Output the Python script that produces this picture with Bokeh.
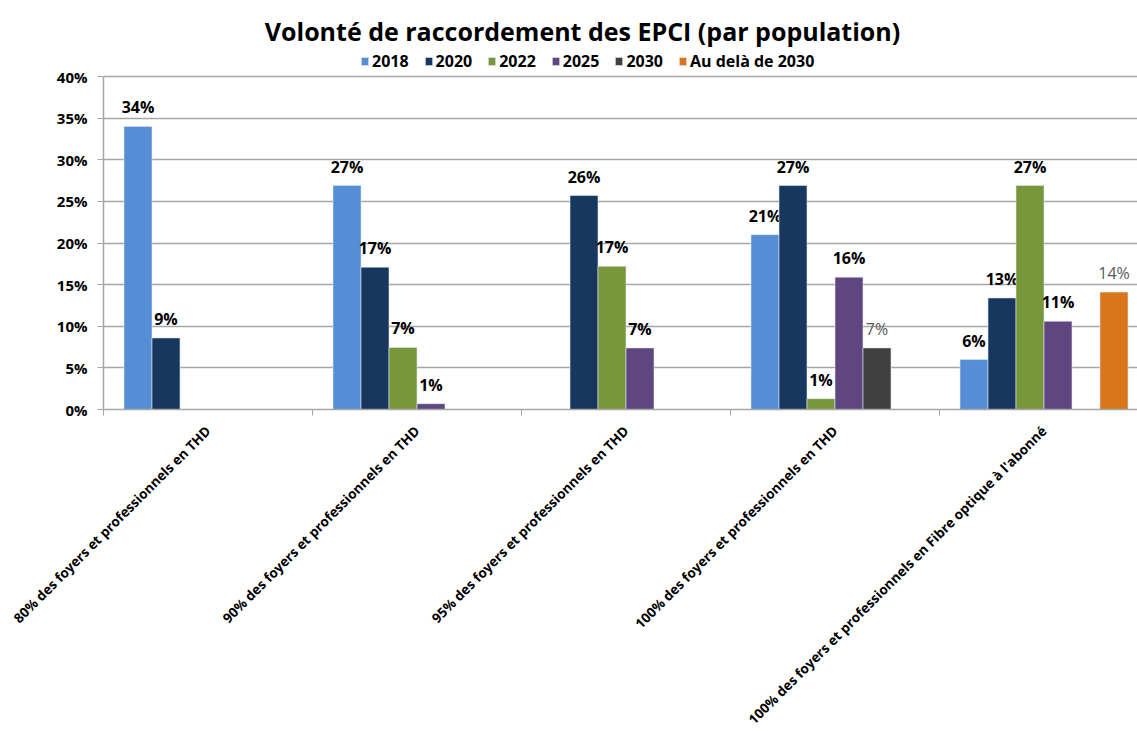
import math
import numpy as np
from bokeh.plotting import figure
from bokeh.models import (Range1d, FixedTicker, NumeralTickFormatter, Legend,
                          LegendItem, Label, ColumnDataSource)
from bokeh.core.properties import value
from bokeh.embed import file_html
from bokeh.resources import INLINE

# ---------------- data ----------------
categories = [
    "80% des foyers et professionnels en THD",
    "90% des foyers et professionnels en THD",
    "95% des foyers et professionnels en THD",
    "100% des foyers et professionnels en THD",
    "100% des foyers et professionnels en Fibre optique à l'abonné",
]
series_names = ["2018", "2020", "2022", "2025", "2030", "Au delà de 2030"]
v2018 = [0.340, 0.269, None, 0.210, 0.060]
v2020 = [0.086, 0.171, 0.257, 0.269, 0.134]
v2022 = [None, 0.0745, 0.172, 0.013, 0.269]
v2025 = [None, 0.007, 0.074, 0.159, 0.106]
v2030 = [None, None, None, 0.074, None]
v_after = [None, None, None, None, 0.141]
y_ticks = [0, 0.05, 0.10, 0.15, 0.20, 0.25, 0.30, 0.35, 0.40]
title_text = "Volonté de raccordement des EPCI (par population)"

all_series = [v2018, v2020, v2022, v2025, v2030, v_after]
colors = ["#558ED5", "#17375E", "#77973A", "#5F4680", "#404040", "#D9761C"]
label_colors = ["#000000"] * 4 + ["#595959", "#595959"]
label_styles = ["bold"] * 4 + ["normal", "normal"]

FONT = "Open Sans"

# ---------------- figure ----------------
CAT_PX = 209.0            # pixel width of one category
PX_PER_UNIT = 333 / 0.40  # vertical pixels per unit of value
FRAME_W = 1034
FRAME_H = 409             # frame includes the title / legend band on top
Y_MAX = y_ticks[-1]
p = figure(frame_width=FRAME_W, frame_height=FRAME_H,
           x_range=Range1d(0, FRAME_W / CAT_PX),
           y_range=Range1d(0, FRAME_H / PX_PER_UNIT),
           output_backend="svg", toolbar_location=None,
           min_border_left=103, min_border_right=0, min_border_top=0,
           min_border_bottom=10)
p.outline_line_color = None
p.background_fill_color = "white"
p.border_fill_color = "white"

n_series = len(series_names)
bar_w = 28.0 / CAT_PX
legend_items = []
for j, (name, vals) in enumerate(zip(series_names, all_series)):
    xs, tops, labs = [], [], []
    for i, v in enumerate(vals):
        if v is None:
            continue
        xs.append(i + 0.5 + (j - (n_series - 1) / 2) * bar_w)
        tops.append(v)
        labs.append(f"{round(v * 100):d}%")
    src = ColumnDataSource(dict(x=xs, top=tops, lab=labs))
    r = p.vbar(x="x", top="top", bottom=0, width=bar_w, source=src,
               fill_color=colors[j], line_color="#DDE6F0", line_width=0.6)
    p.text(x="x", y="top", text="lab", source=src, text_align="center",
           text_baseline="bottom", y_offset=-8, text_font=value(FONT),
           text_font_size="16px", text_font_style=label_styles[j],
           text_color=label_colors[j])
    legend_items.append(LegendItem(label=name, renderers=[r]))

# ---------------- axes ----------------
p.yaxis.ticker = FixedTicker(ticks=y_ticks)
p.yaxis.bounds = (0, Y_MAX)
p.yaxis.formatter = NumeralTickFormatter(format="0%")
p.yaxis.major_label_text_font = FONT
p.yaxis.major_label_text_font_size = "15px"
p.yaxis.major_label_text_font_style = "bold"
p.yaxis.major_label_text_color = "#000000"
p.yaxis.axis_line_color = "#A6A6A6"
p.yaxis.axis_line_width = 1.5
p.yaxis.major_tick_line_color = "#A6A6A6"
p.yaxis.major_tick_out = 6
p.yaxis.major_tick_in = 0
p.yaxis.minor_tick_line_color = None
p.yaxis.major_label_standoff = 10

centers = [i + 0.5 for i in range(len(categories))]
bounds = list(range(len(categories) + 1))
p.xaxis.ticker = FixedTicker(ticks=centers, minor_ticks=bounds)
p.xaxis.major_label_overrides = {c: lab for c, lab in zip(centers, categories)}
p.xaxis.major_label_orientation = math.pi / 4
p.xaxis.major_label_text_font = FONT
p.xaxis.major_label_text_font_size = "13.5px"
p.xaxis.major_label_text_font_style = "bold"
p.xaxis.major_label_text_color = "#000000"
p.xaxis.major_label_standoff = 13
p.xaxis.major_tick_line_color = None
p.xaxis.minor_tick_line_color = "#A6A6A6"
p.xaxis.minor_tick_out = 6
p.xaxis.minor_tick_in = 0
p.xaxis.axis_line_color = "#A6A6A6"
p.xaxis.axis_line_width = 1.5

p.xgrid.grid_line_color = None
p.ygrid.ticker = FixedTicker(ticks=y_ticks)
p.ygrid.grid_line_color = "#A6A6A6"
p.ygrid.grid_line_width = 1.5

# ---------------- legend ----------------
legend = Legend(items=legend_items, orientation="horizontal",
                location=(257, 337), border_line_color=None,
                background_fill_alpha=0, padding=0, margin=0,
                glyph_width=9, glyph_height=10, label_standoff=3, spacing=15,
                label_text_font=FONT, label_text_font_size="16px",
                label_text_font_style="bold", label_text_color="#000000")
p.add_layout(legend, "center")

# ---------------- title ----------------
title = Label(x=(582 - 103) / CAT_PX, y=(409 - 30) / PX_PER_UNIT,
              text=title_text, text_align="center", text_baseline="middle",
              text_font=FONT, text_font_size="25px", text_font_style="bold",
              text_color="#000000")
p.add_layout(title)

open("out.html", "w").write(file_html(p, INLINE))
